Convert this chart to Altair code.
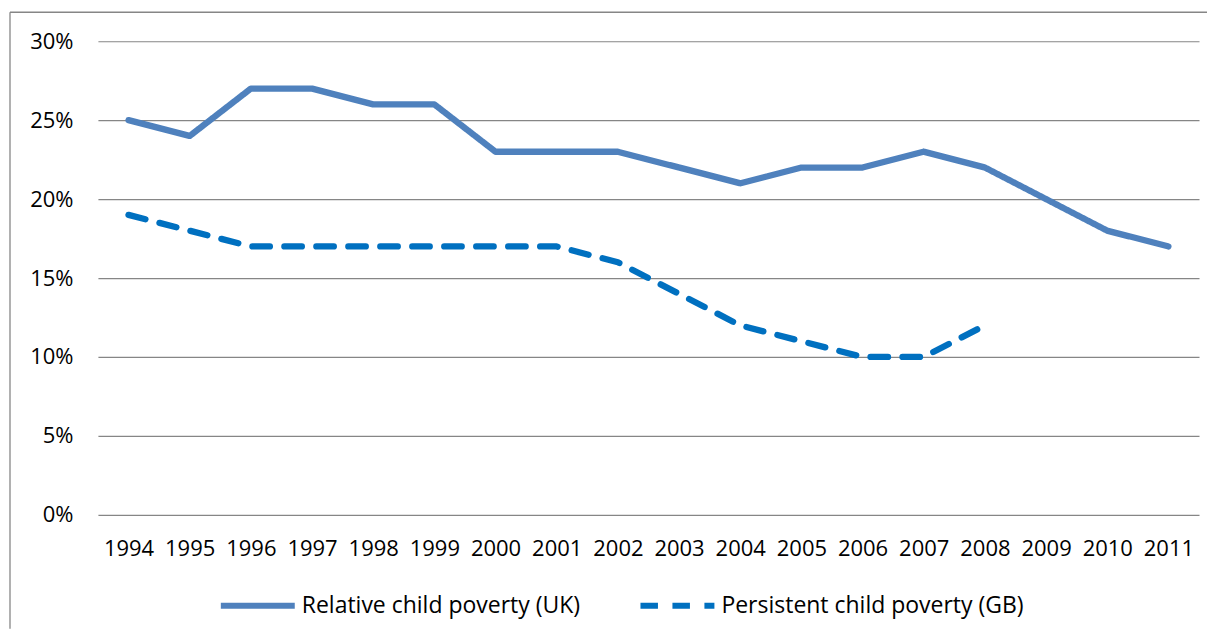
import altair as alt
import pandas as pd

years = [str(y) for y in range(1994, 2012)]
relative = [25, 24, 27, 27, 26, 26, 23, 23, 23, 22, 21, 22, 22, 23, 22, 20, 18, 17]
persistent = [19, 18, 17, 17, 17, 17, 17, 17, 16, 14, 12, 11, 10, 10, 12]
series_names = ["Relative child poverty (UK)", "Persistent child poverty (GB)"]
y_ticks = [0, 0.05, 0.10, 0.15, 0.20, 0.25, 0.30]

rows = []
for yr, v in zip(years, relative):
    rows.append({"year": yr, "series": series_names[0], "value": v / 100})
for yr, v in zip(years, persistent):
    rows.append({"year": yr, "series": series_names[1], "value": v / 100})
df = pd.DataFrame(rows)

FONT = "Open Sans"
GRID = "#868686"

legend_opts = dict(title=None, orient="none", direction="horizontal",
                   legendX=120, legendY=525,
                   symbolType="stroke", symbolSize=5476,
                   symbolStrokeWidth=6, labelOffset=4,
                   columnPadding=48)

lines = alt.Chart(df).mark_line(strokeWidth=6.3, strokeCap="round", strokeJoin="round").encode(
    x=alt.X("year:O", sort=years,
            scale=alt.Scale(type="point", padding=0.5),
            axis=alt.Axis(title=None, labelAngle=0, domain=False, ticks=False,
                          labelPadding=24, grid=False)),
    y=alt.Y("value:Q", scale=alt.Scale(domain=[0, 0.3]),
            axis=alt.Axis(format=".0%", values=y_ticks, title=None, domain=False,
                          ticks=False, labelPadding=25, gridColor=GRID, gridWidth=1.2)),
    color=alt.Color("series:N",
                    scale=alt.Scale(domain=series_names, range=["#4F81BD", "#0070C0"]),
                    legend=alt.Legend(**legend_opts)),
    strokeDash=alt.StrokeDash("series:N",
                              scale=alt.Scale(domain=series_names, range=[[1, 0], [17.5, 14.5]]),
                              legend=alt.Legend(**legend_opts)),
)

border_data = pd.DataFrame({"k": [0]})
left_border = alt.Chart(border_data).mark_rule(color=GRID, strokeWidth=1.3).encode(
    x=alt.value(-88), y=alt.value(-29), y2=alt.value(588))
top_border = alt.Chart(border_data).mark_rule(color=GRID, strokeWidth=1.3).encode(
    x=alt.value(-88), x2=alt.value(1110), y=alt.value(-29))

chart = alt.layer(left_border, top_border, lines).properties(
    width=1102, height=474,
    padding={"left": 1, "top": 3, "right": 0, "bottom": 0},
).configure_view(stroke=None).configure_axis(
    labelFont=FONT, labelFontSize=22, labelColor="#000000"
).configure_legend(
    labelFont=FONT, labelFontSize=23, labelColor="#000000", labelLimit=500
)

chart.save("out.html", embed_options={"renderer": "svg", "actions": False})
